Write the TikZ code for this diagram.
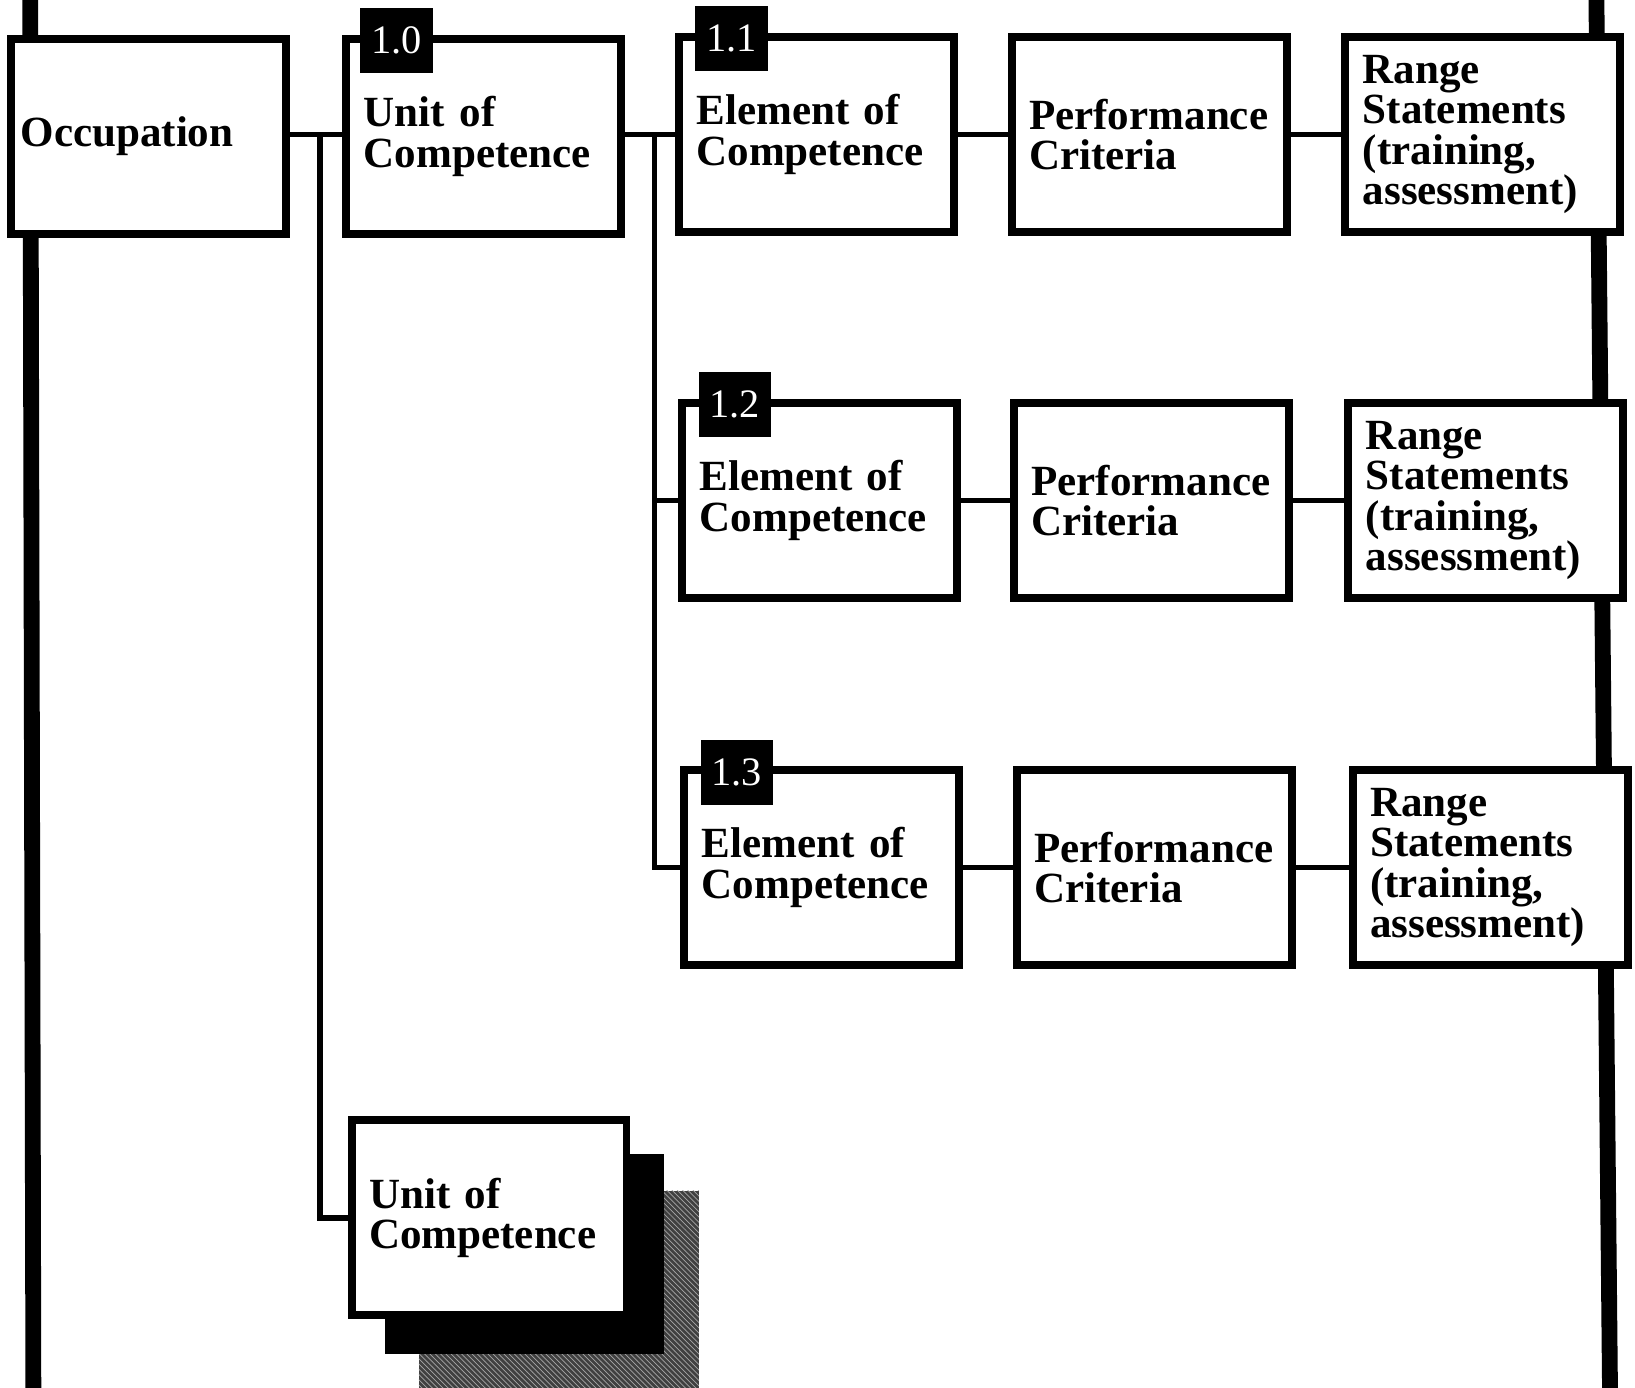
\documentclass[tikz,border=0pt]{standalone}
\usepackage{fontspec}
\setmainfont{Liberation Serif}
\usetikzlibrary{positioning,patterns}

\begin{document}
\begin{tikzpicture}[x=0.020854cm, y=-0.020854cm,
			box/.style={draw, line width=4.5pt, fill=white, minimum height=3.9cm, text width=4.8cm, inner xsep=0.35cm, align=left, font=\bfseries\fontsize{24.5}{23}\selectfont},
			stackbox/.style={minimum width=5.6cm, minimum height=4cm, inner sep=0pt},
			tagbox/.style={fill=black, text=white, minimum width=1.45cm, minimum height=1.3cm, inner sep=0pt, font=\fontsize{23}{23}\selectfont},
			link/.style={line width=3pt},
			spine/.style={line width=9pt}]
			\useasboundingbox (0,0) rectangle (1568,1331);
			% outer spines
			\coordinate (ltop) at (29,0);
			\coordinate (lbot) at (32,1331);
			\coordinate (rtop) at (1531,0);
			\coordinate (rbot) at (1544,1331);
			\draw[spine] (ltop) -- (lbot);
			\draw[spine] (rtop) -- (rbot);
			% stacked units behind
			\node[stackbox, fill=black!75, postaction={pattern=north west lines, pattern color=black!35}] (stackB) at (536,1238) {};
			\node[stackbox, fill=black] (stackA) at (503,1203) {};
			% boxes
			\node[box, text width=5.1cm, inner xsep=0.2cm] (occ) at (142,131) {Occupation};
			\node[box] (unit1) at (464,131) {Unit of\\Competence};
			\node[box] (unit2) at (469,1168) {Unit of\\Competence};
			\node[box] (el1) at (783,129) {Element of\\Competence};
			\node[box] (pc1) at (1102,129) {Performance\\Criteria};
			\node[box] (rs1) at (1422,129) {Range\\Statements\\(training,\\assessment)};
			\node[box] (el2) at (786,480) {Element of\\Competence};
			\node[box] (pc2) at (1104,480) {Performance\\Criteria};
			\node[box] (rs2) at (1425,480) {Range\\Statements\\(training,\\assessment)};
			\node[box] (el3) at (788,832) {Element of\\Competence};
			\node[box] (pc3) at (1107,832) {Performance\\Criteria};
			\node[box] (rs3) at (1429,832) {Range\\Statements\\(training,\\assessment)};
			% number tags
			\node[tagbox, right=0.35cm of unit1.north west, yshift=-0.1cm] (tag10) {1.0};
			\node[tagbox, right=0.4cm of el1.north west, yshift=-0.1cm] (tag11) {1.1};
			\node[tagbox, right=0.4cm of el2.north west, yshift=-0.1cm] (tag12) {1.2};
			\node[tagbox, right=0.4cm of el3.north west, yshift=-0.12cm] (tag13) {1.3};
			% connectors
			\coordinate (hubA) at (307,129);
			\coordinate (hubB) at (628,129);
			\draw[link] (occ.east |- hubA) -- (unit1.west |- hubA);
			\draw[link] (hubA) |- (unit2.west);
			\draw[link] (unit1.east |- hubB) -- (el1.west |- hubB);
			\draw[link] (hubB) |- (el2.west);
			\draw[link] (hubB) |- (el3.west);
			\draw[link] (el1) -- (pc1) -- (rs1);
			\draw[link] (el2) -- (pc2) -- (rs2);
			\draw[link] (el3) -- (pc3) -- (rs3);
\end{tikzpicture}
\end{document}
